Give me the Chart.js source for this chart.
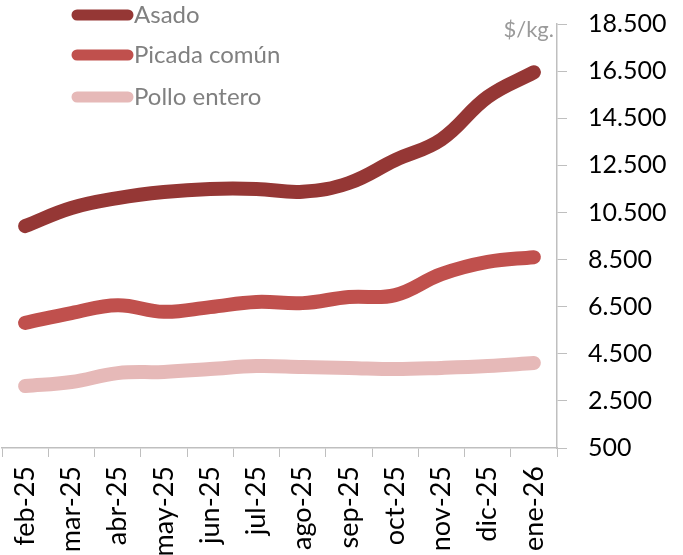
<!DOCTYPE html>
<html>
<head>
<meta charset="utf-8">
<script src="https://cdn.jsdelivr.net/npm/chart.js@4.4.1/dist/chart.umd.min.js"></script>
<style>
html,body{margin:0;padding:0;background:#fff;}
#wrap{position:relative;width:683px;height:555px;}
</style>
</head>
<body>
<div id="wrap"><canvas id="c" width="683" height="555"></canvas></div>
<script>
const categories = ["feb-25","mar-25","abr-25","may-25","jun-25","jul-25","ago-25","sep-25","oct-25","nov-25","dic-25","ene-26"];
const asado = [9920, 10690, 11110, 11370, 11500, 11500, 11380, 11750, 12720, 13600, 15400, 16450];
const picada = [5810, 6230, 6560, 6280, 6480, 6700, 6650, 6910, 6990, 7880, 8400, 8600];
const pollo = [3130, 3300, 3680, 3730, 3850, 3980, 3940, 3900, 3850, 3900, 3980, 4110];
const seriesNames = ["Asado","Picada común","Pollo entero"];
const seriesColors = ["#953735","#C0504D","#E6B9B8"];
const yMin = 500, yMax = 18500, yStep = 2000;
const unitLabel = "$/kg.";

const FONT = "Lato, 'Noto Sans', sans-serif";

const legendPlugin = {
  id: 'customLegend',
  afterDraw(chart) {
    const ctx = chart.ctx;
    ctx.save();
    const ys = [15, 55, 97];
    chart.data.datasets.forEach((ds, i) => {
      ctx.strokeStyle = ds.borderColor;
      ctx.lineWidth = 11;
      ctx.lineCap = 'round';
      ctx.beginPath();
      ctx.moveTo(77, ys[i]);
      ctx.lineTo(128, ys[i]);
      ctx.stroke();
      ctx.fillStyle = '#808080';
      ctx.font = "24px " + FONT;
      ctx.textBaseline = 'middle';
      ctx.textAlign = 'left';
      ctx.fillText(ds.label, 134, ys[i]);
    });
    const ya = chart.scales.y;
    ctx.fillStyle = '#9a9a9a';
    ctx.font = "22px " + FONT;
    ctx.textAlign = 'right';
    ctx.textBaseline = 'middle';
    ctx.fillText(unitLabel, ya.left - 3, 30);
    ctx.restore();
  }
};

new Chart(document.getElementById('c'), {
  type: 'line',
  data: {
    labels: categories,
    datasets: [
      {label: seriesNames[0], data: asado, borderColor: seriesColors[0]},
      {label: seriesNames[1], data: picada, borderColor: seriesColors[1]},
      {label: seriesNames[2], data: pollo, borderColor: seriesColors[2]}
    ].map(d => Object.assign(d, {borderWidth: 14, tension: 0.4, pointRadius: 0, borderCapStyle: 'round', borderJoinStyle: 'round', fill: false}))
  },
  options: {
    responsive: false,
    animation: false,
    layout: {padding: {top: 0, left: 2, right: 0, bottom: 0}},
    plugins: {legend: {display: false}, tooltip: {enabled: false}},
    scales: {
      x: {
        offset: true,
        grid: {display: true, drawOnChartArea: false, drawTicks: true, tickLength: 9, color: '#bfbfbf', offset: true},
        border: {display: true, color: '#bfbfbf', width: 1.5},
        ticks: {color: '#000', font: {family: FONT, size: 27}, minRotation: 90, maxRotation: 90, autoSkip: false, padding: 9},
        afterFit(s) { s.height = 107; s.paddingLeft = 0; s.paddingRight = 0; }
      },
      y: {
        position: 'right',
        min: yMin, max: yMax,
        grid: {display: true, drawOnChartArea: false, drawTicks: true, tickLength: 10, color: '#bfbfbf'},
        border: {display: true, color: '#bfbfbf', width: 1.5},
        ticks: {
          stepSize: yStep,
          color: '#000',
          font: {family: FONT, size: 25},
          padding: 21,
          callback: v => v.toLocaleString('de-DE')
        },
        afterFit(s) { s.width = 126; s.paddingTop = 24; s.paddingBottom = 0; }
      }
    }
  },
  plugins: [legendPlugin]
});
</script>
</body>
</html>
